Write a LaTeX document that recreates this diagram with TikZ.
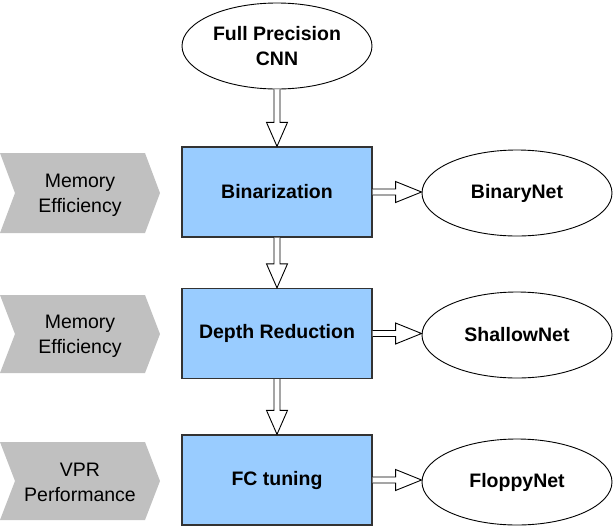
\documentclass[tikz,border=0pt]{standalone}
\usepackage{fontspec}
\setmainfont{Liberation Sans}
\usetikzlibrary{calc,shapes.geometric}
\definecolor{boxblue}{HTML}{99CCFF}
\definecolor{chevgray}{HTML}{C0C0C0}
\definecolor{boxedge}{HTML}{333333}
\begin{document}
\begin{tikzpicture}[x=1pt,y=-1pt,
  stagebox/.style={draw=boxedge, line width=1.3pt, fill=boxblue, minimum width=190pt, minimum height=90pt, inner sep=0pt, font=\bfseries\fontsize{19.5}{25}\selectfont, align=center},
  oval/.style={draw=black, line width=0.9pt, fill=white, ellipse, minimum width=190pt, minimum height=86pt, inner sep=0pt, font=\bfseries\fontsize{19.5}{25}\selectfont, align=center},
  chevtext/.style={font=\fontsize{19.5}{25}\selectfont, align=center, inner sep=0pt},
  chevron/.style={fill=chevgray, draw=none},
  hollow/.style={draw=black, line width=0.9pt, fill=white, line join=miter}
]
\useasboundingbox (0,0) rectangle (614,528);

% chevrons
\fill[chevron] (0,153) -- (145,153) -- (160,193) -- (145,233) -- (0,233) -- (15,193) -- cycle;
\fill[chevron] (0,295) -- (145,295) -- (160,334) -- (145,373) -- (0,373) -- (15,334) -- cycle;
\fill[chevron] (0,442) -- (145,442) -- (160,481) -- (145,520) -- (0,520) -- (15,481) -- cycle;
\node[chevtext] (c1) at (80,195) {Memory\\Efficiency};
\node[chevtext] (c2) at (80,336) {Memory\\Efficiency};
\node[chevtext] (c3) at (80,482) {VPR\\Performance};

% main nodes
\node[oval] (fp) at (277,46) {Full Precision\\CNN};
\node[stagebox] (b1) at (277,192) {Binarization};
\node[stagebox] (b2) at (277,333.5) {Depth Reduction};
\node[stagebox] (b3) at (277,480) {FC tuning};
\node[oval] (r1) at (517,193) {BinaryNet};
\node[oval] (r2) at (517,335) {ShallowNet};
\node[oval] (r3) at (517,482) {FloppyNet};

% vertical hollow arrows
\foreach \a/\b in {fp/b1, b1/b2, b2/b3}{
  \draw[hollow] let \p1=(\a.south), \p2=(\b.north) in
    (\x1-3pt,\y1) -- (\x1-3pt,\y2+24pt) -- (\x1-10.5pt,\y2+24pt) -- (\x2,\y2)
    -- (\x1+10.5pt,\y2+24pt) -- (\x1+3pt,\y2+24pt) -- (\x1+3pt,\y1);
}
% horizontal hollow arrows
\foreach \a/\b in {b1/r1, b2/r2, b3/r3}{
  \draw[hollow] let \p1=(\a.east), \p2=(\b.west) in
    (\x1,\y1+3pt) -- (\x2-26pt,\y1+3pt) -- (\x2-26pt,\y1+10.5pt) -- (\x2,\y1)
    -- (\x2-26pt,\y1-10.5pt) -- (\x2-26pt,\y1-3pt) -- (\x1,\y1-3pt);
}
\end{tikzpicture}
\end{document}
